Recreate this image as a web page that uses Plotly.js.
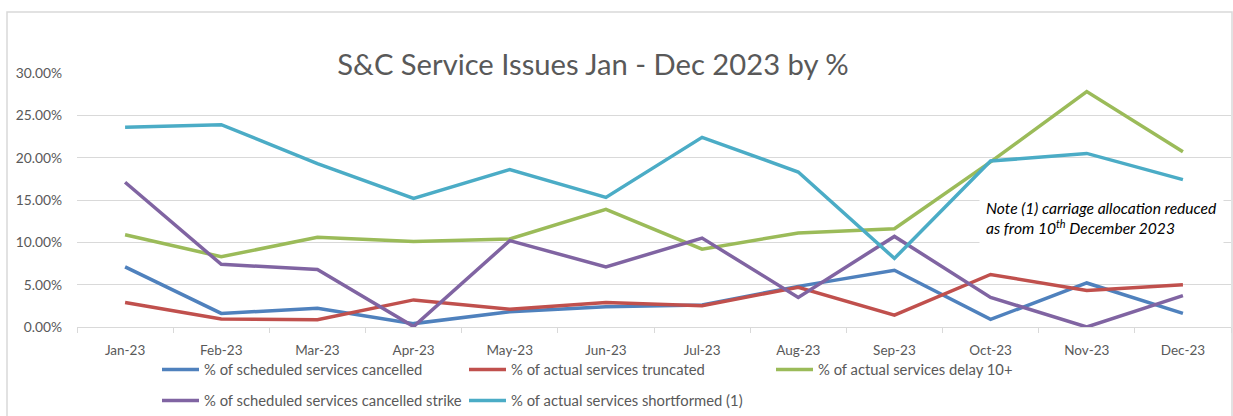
<!DOCTYPE html>
<html>
<head>
<meta charset="utf-8">
<script src="https://cdn.plot.ly/plotly-3.0.1.min.js"></script>
<style>html,body{margin:0;padding:0;background:#fff;}#chart{width:1233px;height:416px;}</style>
</head>
<body>
<div id="chart"></div>
<script>
const months = ['Jan-23','Feb-23','Mar-23','Apr-23','May-23','Jun-23','Jul-23','Aug-23','Sep-23','Oct-23','Nov-23','Dec-23'];
const cancelled   = [7.1, 1.6, 2.2, 0.4, 1.8, 2.4, 2.6, 4.8, 6.7, 0.9, 5.2, 1.6];
const truncated   = [2.9, 0.95, 0.85, 3.2, 2.1, 2.9, 2.5, 4.7, 1.4, 6.2, 4.3, 5.0];
const delay10     = [10.9, 8.3, 10.6, 10.1, 10.4, 13.9, 9.2, 11.1, 11.6, 19.5, 27.8, 20.7];
const strike      = [17.1, 7.4, 6.8, 0.05, 10.2, 7.1, 10.5, 3.5, 10.7, 3.5, 0.0, 3.7];
const shortformed = [23.6, 23.9, 19.3, 15.2, 18.6, 15.3, 22.4, 18.3, 8.1, 19.6, 20.5, 17.4];

const names = ['% of scheduled services cancelled','% of actual services truncated','% of actual services delay 10+','% of scheduled services cancelled strike','% of actual services shortformed (1)'];
const series = [cancelled, truncated, delay10, strike, shortformed];
const colors = ['#4F81BD','#C0504D','#9BBB59','#8064A2','#4BACC6'];
const legendOf = ['legend','legend','legend','legend2','legend2'];

const traces = series.map((s,i)=>({
  type:'scatter', mode:'lines', x: months, y: s, name: names[i],
  line:{color:colors[i], width:3.5}, legend: legendOf[i], hoverinfo:'none'
}));

const font = 'Lato, "Liberation Sans", sans-serif';
const W = 1233, H = 416;
const legendCommon = {orientation:'h', xref:'container', yref:'container', x:157/W, xanchor:'left', yanchor:'middle',
          entrywidth:255, entrywidthmode:'pixels', itemwidth:37, font:{size:14.8, color:'#595959'}, bgcolor:'rgba(0,0,0,0)'};
const layout = {
  width: W, height: H,
  margin:{l:77, r:2, t:73, b:89},
  paper_bgcolor:'#fff', plot_bgcolor:'#fff',
  font:{family:font, color:'#595959', size:13},
  title:{text:'S&amp;C Service Issues Jan - Dec 2023 by %', font:{family:font, size:29.2, color:'#595959'},
         xref:'container', yref:'container', x:593/W, xanchor:'center', y:1-65/H, yanchor:'middle'},
  xaxis:{type:'category', range:[-0.5,11.5], showgrid:false, showline:true, linecolor:'#d9d9d9', linewidth:1,
         ticks:'outside', tickson:'boundaries', ticklen:5, tickcolor:'#d9d9d9', tickfont:{size:13.5, color:'#595959'},
         ticklabelstandoff:11, zeroline:false, fixedrange:true},
  yaxis:{range:[0,30], dtick:5, tickformat:'.2f', ticksuffix:'%', showgrid:true, gridcolor:'#d9d9d9', gridwidth:1,
         zeroline:false, showline:false, tickfont:{size:13.8, color:'#595959'}, ticklabelstandoff:14, fixedrange:true},
  legend:Object.assign({}, legendCommon, {y:1-370/H}),
  legend2:Object.assign({}, legendCommon, {y:1-401/H}),
  showlegend:true,
  annotations:[{
    text:'<i>Note (1) carriage allocation reduced<br>as from 10<sup>th</sup> December 2023</i>',
    xref:'paper', yref:'paper', x:(979-77)/1154, xanchor:'left', y:(327-192)/254, yanchor:'top',
    showarrow:false, align:'left', bgcolor:'#ffffff', borderpad:6,
    font:{family:font, size:15.6, color:'#000000'}
  }],
  shapes:[{type:'rect', xref:'paper', yref:'paper',
    x0:(7-77)/1154, x1:(1232-77)/1154, y0:(327-430)/254, y1:(327-12)/254,
    line:{color:'#d9d9d9', width:1.5}, fillcolor:'rgba(0,0,0,0)', layer:'below'}]
};
Plotly.newPlot('chart', traces, layout, {staticPlot:true, displayModeBar:false});
</script>
</body>
</html>
